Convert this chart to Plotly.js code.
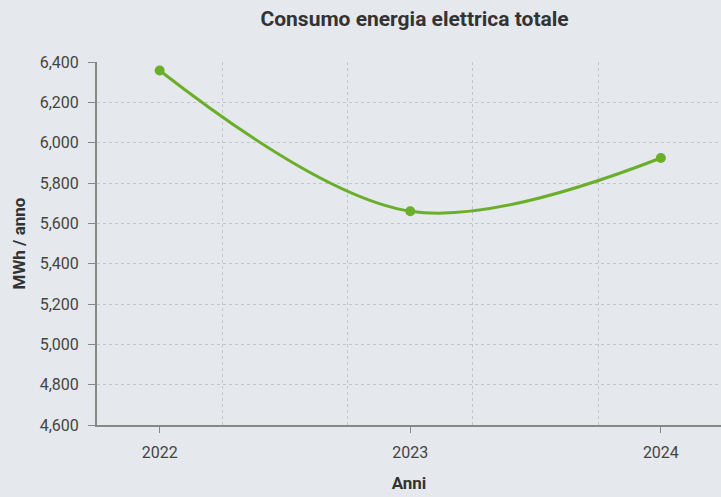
<!DOCTYPE html>
<html>
<head>
<meta charset="utf-8">
<script src="https://cdn.plot.ly/plotly-3.0.1.min.js"></script>
<style>html,body{margin:0;padding:0;background:#e5e8ec;}#chart{width:721px;height:497px;}</style>
</head>
<body>
<div id="chart"></div>
<script>
const years = [2022, 2023, 2024];
const tickLabels = ["2022", "2023", "2024"];
const consumo = [6358, 5660, 5924];
const yTicks = [4600, 4800, 5000, 5200, 5400, 5600, 5800, 6000, 6200, 6400];

const green = '#6aae2a';
const trace = {
  x: years, y: consumo, type: 'scatter', mode: 'lines+markers',
  line: {color: green, width: 3, shape: 'spline', smoothing: 1},
  marker: {color: green, size: 10},
  hoverinfo: 'x+y'
};
const layout = {
  width: 721, height: 497,
  paper_bgcolor: '#e5e8ec', plot_bgcolor: '#e5e8ec',
  margin: {l: 97, r: 0, t: 62, b: 72},
  font: {family: 'Roboto, sans-serif', color: '#444', size: 16},
  title: {text: '<b>Consumo energia elettrica totale</b>', x: 0.575, xanchor: 'center', y: 0.963, yanchor: 'middle',
          font: {family: 'Roboto, sans-serif', size: 21, color: '#333'}},
  showlegend: false,
  xaxis: {
    range: [2021.75, 2024.24], tickvals: years, ticktext: tickLabels,
    showgrid: false, zeroline: false,
    showline: true, linecolor: '#888', linewidth: 2,
    ticks: 'outside', ticklen: 6, tickcolor: '#888', tickwidth: 1,
    ticklabelstandoff: 6,
    tickfont: {size: 16, color: '#444'},
    minor: {tick0: 2021.25, dtick: 0.5, showgrid: true, gridcolor: '#c3c5c9', griddash: 'dot', gridwidth: 1},
    title: {text: '<b>Anni</b>', standoff: 16, font: {size: 17, color: '#333'}}
  },
  yaxis: {
    range: [4600, 6400], tickvals: yTicks, tickformat: ',d',
    showgrid: true, gridcolor: '#c3c5c9', griddash: 'dot', gridwidth: 1,
    zeroline: false, showline: true, linecolor: '#888', linewidth: 2,
    ticks: 'outside', ticklen: 7, tickcolor: '#888',
    ticklabelstandoff: 6,
    tickfont: {size: 16, color: '#444'},
    title: {text: '<b>MWh / anno</b>', standoff: 10, font: {size: 17, color: '#333'}}
  }
};
Plotly.newPlot('chart', [trace], layout, {displayModeBar: false, staticPlot: true});
</script>
</body>
</html>
